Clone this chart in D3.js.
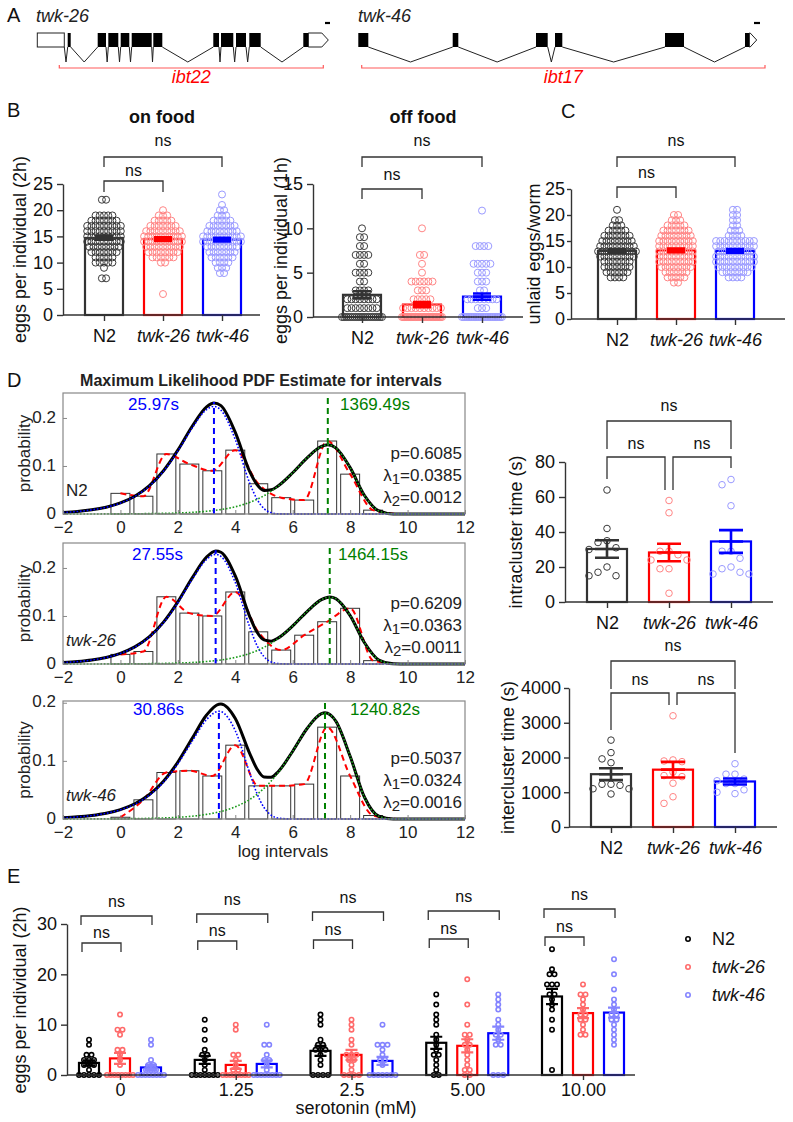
<!DOCTYPE html>
<html>
<head>
<meta charset="utf-8">
<script src="https://cdn.jsdelivr.net/npm/d3@7"></script>
<style>
  body { margin: 0; background: #fff; }
  svg text { font-family: "Liberation Sans", Arial, sans-serif; }
</style>
</head>
<body>
<svg id="fig" width="793" height="1122"></svg>
<script>
// ---------------- data ----------------
var strains = ["N2", "twk-26", "twk-46"];

// A: gene models, positions in locus units (1 unit ~ 0.1 px of the drawing)
var twk26Utr5 = [0, 270];
var twk26Exons = [[304, 334], [604, 687], [710, 810], [834, 920], [944, 1144], [1160, 1250],
                  [1760, 1817], [1837, 1960], [1987, 2087], [2120, 2234], [2660, 2710]];
var twk26Utr3 = [2710, 2910];
var twk26Del = [220, 2860];
var twk26Bar = [2877, 2927];
var twk46Exons = [[0, 100], [944, 1000], [1777, 1894], [1967, 2040], [3067, 3257], [3867, 3910]];
var twk46Utr3 = [3910, 3984];
var twk46Del = [34, 4067];
var twk46Bar = [3957, 4017];

// B / C: [value, number of animals]
var onFoodN2    = [[22,2],[19,5],[18,7],[17,9],[16,9],[15,9],[14,9],[13,8],[12,7],[11,5],[10,5],[9,1],[7,2]];
var onFoodTwk26 = [[20,1],[19,3],[18,5],[17,7],[16,9],[15,10],[14,10],[13,9],[12,8],[11,6],[10,2],[4,1]];
var onFoodTwk46 = [[23,1],[21,1],[20,2],[19,3],[18,5],[17,7],[16,8],[15,10],[14,10],[13,8],[12,7],[11,6],[10,4],[9,3],[8,2]];
var onFoodMean = [14.7, 14.5, 14.4];
var onFoodSem  = [0.35, 0.35, 0.35];

var offFoodN2    = [[10,1],[9,2],[8,2],[7,4],[6,2],[5,4],[4,2],[3,4],[2,8],[1,8],[0,20]];
var offFoodTwk26 = [[10,1],[7,2],[6,1],[5,1],[4,6],[3,3],[2,5],[1,10],[0,30]];
var offFoodTwk46 = [[12,1],[8,4],[6,5],[5,3],[4,3],[3,2],[2,8],[1,3],[0,24]];
var offFoodMean = [2.5, 1.4, 2.3];
var offFoodSem  = [0.4, 0.3, 0.35];

var unlaidN2    = [[21,1],[19,2],[18,3],[17,5],[16,7],[15,8],[14,9],[13,10],[12,9],[11,7],[10,7],[9,6],[8,4]];
var unlaidTwk26 = [[20,2],[19,3],[18,5],[17,7],[16,8],[15,9],[14,9],[13,9],[12,9],[11,9],[10,8],[9,6],[8,5],[7,2]];
var unlaidTwk46 = [[21,2],[20,2],[19,2],[18,2],[17,3],[16,4],[15,10],[14,10],[13,9],[12,10],[11,10],[10,9],[9,7],[8,4]];
var unlaidMean = [13.1, 13.2, 13.1];
var unlaidSem  = [0.35, 0.35, 0.35];

// D: interval histograms and two-exponential fits (x = log interval)
var binCenters = [0, 0.8, 1.6, 2.4, 3.2, 4.0, 4.8, 5.6, 6.4, 7.2, 8.0, 8.8];
var histN2    = [0.043, 0.037, 0.125, 0.104, 0.090, 0.133, 0.063, 0.034, 0.029, 0.152, 0.083, 0.008];
var histTwk26 = [0.020, 0.026, 0.140, 0.106, 0.100, 0.150, 0.067, 0.029, 0.060, 0.088, 0.116, 0.007];
var histTwk46 = [0.003, 0.033, 0.080, 0.083, 0.074, 0.127, 0.057, 0.057, 0.060, 0.158, 0.074, 0.006];
var histLineEnd = 9.6;

var fitXN2 = [-2,-1.5,-1,-0.5,0,0.5,1,1.5,2,2.5,3,3.257,3.5,4,4.5,4.75,5,5.25,5.5,6,6.5,7,7.222,7.5,8,8.5,9,9.5,10,12];
var fitAllN2   = [0.0032,0.0053,0.0087,0.0142,0.0230,0.0370,0.0585,0.0902,0.1330,0.1827,0.2232,0.2312,0.2256,0.1701,0.0888,0.0620,0.0492,0.0503,0.0589,0.0859,0.1169,0.1406,0.1440,0.1377,0.0966,0.0385,0.0064,0.0002,0,0];
var fitShortN2 = [0.0032,0.0052,0.0086,0.0140,0.0227,0.0365,0.0577,0.0889,0.1309,0.1792,0.2175,0.2239,0.2164,0.1551,0.0647,0.0316,0.0111,0.0028,0.0004,0,0,0,0,0,0,0,0,0,0,0];
var fitLongN2  = [0,0.0001,0.0001,0.0002,0.0003,0.0005,0.0008,0.0013,0.0021,0.0035,0.0057,0.0073,0.0092,0.0150,0.0241,0.0304,0.0381,0.0475,0.0585,0.0859,0.1169,0.1406,0.1440,0.1377,0.0966,0.0385,0.0064,0.0002,0,0];

var fitXTwk26 = [-2,-1.5,-1,-0.5,0,0.5,1,1.5,2,2.5,3,3.316,3.5,4,4.5,4.75,5,5.25,5.5,6,6.5,7,7.289,7.5,8,8.5,9,9.5,10,12];
var fitAllTwk26   = [0.0031,0.0051,0.0083,0.0136,0.0222,0.0356,0.0564,0.0873,0.1295,0.1794,0.2228,0.2354,0.2327,0.1833,0.0993,0.0670,0.0501,0.0476,0.0545,0.0794,0.1093,0.1339,0.1395,0.1361,0.1008,0.0443,0.0083,0.0004,0,0];
var fitShortTwk26 = [0.0030,0.0050,0.0082,0.0134,0.0219,0.0352,0.0557,0.0861,0.1276,0.1763,0.2176,0.2284,0.2243,0.1696,0.0773,0.0392,0.0153,0.0043,0.0008,0,0,0,0,0,0,0,0,0,0,0];
var fitLongTwk26  = [0,0.0001,0.0001,0.0002,0.0003,0.0004,0.0007,0.0012,0.0019,0.0031,0.0052,0.0070,0.0084,0.0137,0.0220,0.0278,0.0348,0.0433,0.0537,0.0794,0.1093,0.1339,0.1395,0.1361,0.1008,0.0443,0.0083,0.0004,0,0];

var fitXTwk46 = [-2,-1.5,-1,-0.5,0,0.5,1,1.5,2,2.5,3,3.429,3.5,4,4.5,4.75,5,5.25,5.5,6,6.5,7,7.124,7.5,8,8.5,9,9.5,10,12];
var fitAllTwk46   = [0.0023,0.0037,0.0061,0.0099,0.0162,0.0262,0.0417,0.0651,0.0979,0.1388,0.1789,0.1974,0.1977,0.1728,0.1129,0.0866,0.0724,0.0719,0.0818,0.1166,0.1557,0.1812,0.1826,0.1684,0.1079,0.0374,0.0047,0.0001,0,0];
var fitShortTwk46 = [0.0022,0.0036,0.0059,0.0097,0.0158,0.0255,0.0406,0.0633,0.0950,0.1340,0.1710,0.1853,0.1848,0.1519,0.0794,0.0445,0.0197,0.0065,0.0014,0,0,0,0,0,0,0,0,0,0,0];
var fitLongTwk46  = [0.0001,0.0001,0.0002,0.0002,0.0004,0.0007,0.0011,0.0018,0.0029,0.0048,0.0079,0.0121,0.0129,0.0209,0.0335,0.0421,0.0527,0.0654,0.0804,0.1166,0.1557,0.1812,0.1826,0.1684,0.1079,0.0374,0.0047,0.0001,0,0];

var modeShort = [3.257, 3.316, 3.429];
var modeLong  = [7.222, 7.289, 7.124];
var modeShortTop = [0.233, 0.237, 0.186];
var modeLongTop  = [0.246, 0.248, 0.200];
var modeShortLabel = ["25.97s", "27.55s", "30.86s"];
var modeLongLabel  = ["1369.49s", "1464.15s", "1240.82s"];
var fitP  = ["0.6085", "0.6209", "0.5037"];
var fitL1 = ["0.0385", "0.0363", "0.0324"];
var fitL2 = ["0.0012", "0.0011", "0.0016"];

var intraN2    = [64, 42, 35, 34, 31, 30, 20, 17, 15, 15];
var intraTwk26 = [58, 51, 29, 29, 27, 24, 24, 19, 19, 5];
var intraTwk46 = [70, 67, 55, 29, 29, 25, 20, 19, 17, 16, 16];
var intraMean = [30.3, 28.3, 34.6];
var intraSem  = [5.0, 5.0, 6.5];

var interN2    = [2500, 2140, 1960, 1850, 1230, 1230, 1200, 1100, 1100, 950];
var interTwk26 = [3200, 1930, 1900, 1880, 1580, 1480, 1450, 1260, 870, 680];
var interTwk46 = [1820, 1520, 1520, 1380, 1330, 1250, 1250, 1070, 960, 1000];
var interMean = [1520, 1650, 1310];
var interSem  = [170, 225, 85];

// E: serotonin dose response
var concs = ["0", "1.25", "2.5", "5.00", "10.00"];
var eMeanN2    = [2.4, 3.0, 4.8, 6.4, 15.6];
var eMeanTwk26 = [3.3, 2.0, 4.0, 5.8, 12.3];
var eMeanTwk46 = [1.5, 2.2, 2.8, 8.3, 12.4];
var eSemN2    = [0.5, 0.8, 1.0, 1.2, 1.5];
var eSemTwk26 = [1.1, 0.8, 1.0, 1.3, 1.0];
var eSemTwk46 = [0.5, 0.7, 0.8, 1.3, 1.0];
var eDotsN2 = [
  [7,6,4,4,3,3,3,2,2,2,1,0,0,0,0,0],
  [11,9,7,5,4,4,3,2,1,0,0,0,0,0,0,0],
  [12,11,10,7,6,6,5,5,5,4,3,2,0,0,0,0],
  [16,14,12,11,10,8,7,6,5,4,4,3,2,1,0,0],
  [25,21,20,20,18,18,18,16,16,15,14,13,11,9,1]
];
var eDotsTwk26 = [
  [12,9,9,8,5,5,4,3,2,0,0,0,0,0,0,0,0],
  [10,9,4,4,3,2,1,1,0,0,0,0,0,0,0,0],
  [11,10,9,7,6,4,4,4,3,3,2,1,0,0,0,0],
  [19,14,10,8,8,7,6,6,5,4,3,2,1,1,0,0],
  [18,16,16,15,14,13,12,12,11,11,10,9,8,8]
];
var eDotsTwk46 = [
  [7,6,3,2,2,1,1,1,0,0,0,0,0,0,0,0],
  [10,6,6,4,3,3,2,1,0,0,0,0,0,0,0,0],
  [10,6,6,6,5,4,3,3,2,0,0,0,0,0,0,0],
  [16,15,14,13,11,10,9,8,8,7,6,6,0,0,0],
  [23,20,17,15,14,13,12,12,11,11,10,9,8,7,6]
];

// ---------------- helpers ----------------
var svg = d3.select("#fig");
var FONT = "'Liberation Sans', Arial, sans-serif";
var barColors = ["#333333", "#ff0000", "#0000ff"];
var dotColors = ["#3a3a3a", "#ff8585", "#9a9aff"];

function addText(g, x, y, s, o) {
  o = o || {};
  var t = g.append("text").attr("x", x).attr("y", y)
    .attr("font-size", o.size || 18)
    .attr("text-anchor", o.anchor || "start")
    .attr("fill", o.color || "#111")
    .text(s);
  if (o.bold) t.attr("font-weight", "bold");
  if (o.italic) t.attr("font-style", "italic");
  if (o.rotate) t.attr("transform", "rotate(-90," + x + "," + y + ")");
  return t;
}

function expand(freq) {
  return freq.flatMap(function (d) { return d3.range(d[1]).map(function () { return d[0]; }); });
}

// dots sharing a value sit side by side in one row
function rowLayout(vals, cx, y, dx, maxW) {
  var pts = [];
  d3.group(vals, function (v) { return v; }).forEach(function (arr, v) {
    var n = arr.length;
    var step = n > 1 ? Math.min(dx, maxW / (n - 1)) : 0;
    arr.forEach(function (_, i) { pts.push({x: cx + (i - (n - 1) / 2) * step, y: y(v)}); });
  });
  return pts;
}

// simple deterministic beeswarm for continuous values
function swarm(vals, cx, y, minD) {
  var placed = [];
  vals.slice().sort(d3.descending).forEach(function (v) {
    var py = y(v), k = 0, px;
    while (true) {
      var off = k === 0 ? 0 : Math.ceil(k / 2) * minD * (k % 2 ? -1 : 1);
      px = cx + off;
      if (!placed.some(function (p) { return Math.hypot(p.x - px, p.y - py) < minD; })) break;
      k++;
    }
    placed.push({x: px, y: py});
  });
  return placed;
}

function bracket(g, xa, xb, yLine, legA, legB, ty, label) {
  var p = d3.path();
  p.moveTo(xa, legA); p.lineTo(xa, yLine); p.lineTo(xb, yLine); p.lineTo(xb, legB);
  g.append("path").attr("d", p.toString()).attr("fill", "none")
    .attr("stroke", "#333").attr("stroke-width", 1.3);
  addText(g, (xa + xb) / 2, ty, label || "ns", {size: 16, anchor: "middle"});
}

function styleAxis(sel, size) {
  sel.attr("font-family", FONT).attr("font-size", size || 18);
  sel.selectAll("path, line").attr("stroke", "#333").attr("stroke-width", 1.4);
  sel.selectAll("text").attr("fill", "#111");
}

// ---------------- A: gene models ----------------
function drawGene(xs, utr5, exons, utr3, del, bar, name, nameX, delName) {
  var g = svg.append("g");
  var top = 33, bot = 47, apex = 62;
  var feats = (utr5 ? [utr5] : []).concat(exons, [utr3]);
  for (var i = 0; i < feats.length - 1; i++) {
    var a = feats[i][1], b = feats[i + 1][0];
    if (b <= a) continue;
    g.append("path")
      .attr("d", d3.line()([[xs(a), bot], [xs((a + b) / 2), apex], [xs(b), bot]]))
      .attr("fill", "none").attr("stroke", "#222").attr("stroke-width", 1);
  }
  if (utr5) {
    g.append("rect").attr("x", xs(utr5[0])).attr("y", top)
      .attr("width", xs(utr5[1]) - xs(utr5[0])).attr("height", bot - top)
      .attr("fill", "#fff").attr("stroke", "#222").attr("stroke-width", 1);
  }
  var x0 = xs(utr3[0]), x1 = xs(utr3[1]), tip = Math.min(6.5, x1 - x0);
  g.append("path")
    .attr("d", d3.line()([[x0, top], [x1 - tip, top], [x1, (top + bot) / 2], [x1 - tip, bot], [x0, bot]]) + "Z")
    .attr("fill", "#fff").attr("stroke", "#222").attr("stroke-width", 1);
  g.selectAll("rect.exon").data(exons).join("rect").attr("class", "exon")
    .attr("x", function (d) { return xs(d[0]); }).attr("y", top)
    .attr("width", function (d) { return xs(d[1]) - xs(d[0]); }).attr("height", bot - top)
    .attr("fill", "#000");
  // scale bar
  g.append("line").attr("x1", xs(bar[0])).attr("x2", xs(bar[1])).attr("y1", 23).attr("y2", 23)
    .attr("stroke", "#000").attr("stroke-width", 2.2);
  // deletion
  var dp = d3.path();
  dp.moveTo(xs(del[0]), 65); dp.lineTo(xs(del[0]), 68); dp.lineTo(xs(del[1]), 68); dp.lineTo(xs(del[1]), 65);
  g.append("path").attr("d", dp.toString()).attr("fill", "none").attr("stroke", "#ff5a5a").attr("stroke-width", 1.2);
  addText(g, (xs(del[0]) + xs(del[1])) / 2, 83, delName, {italic: true, anchor: "middle", color: "#ff0000"});
  addText(g, nameX, 22, name, {italic: true, color: "#222"});
}
var x26 = d3.scaleLinear().domain([0, 2910]).range([37.3, 328.3]);
var x46 = d3.scaleLinear().domain([0, 3984]).range([358.3, 756.7]);
drawGene(x26, twk26Utr5, twk26Exons, twk26Utr3, twk26Del, twk26Bar, "twk-26", 36, "ibt22");
drawGene(x46, null, twk46Exons, twk46Utr3, twk46Del, twk46Bar, "twk-46", 358, "ibt17");

// ---------------- bar + scatter panels ----------------
function barPanel(p) {
  var g = svg.append("g");
  var x = d3.scalePoint().domain(strains).range([p.c0, p.c2]);
  var y = d3.scaleLinear().domain([0, p.max]).range([p.y0, p.yTop]);

  g.selectAll("rect.bar").data(p.means).join("rect").attr("class", "bar")
    .attr("x", function (d, i) { return x(strains[i]) - p.barW / 2; })
    .attr("y", function (d) { return y(d); })
    .attr("width", p.barW)
    .attr("height", function (d) { return y(0) - y(d); })
    .attr("fill", "none")
    .attr("stroke", function (d, i) { return barColors[i]; })
    .attr("stroke-width", 2.2);

  p.dots.forEach(function (vals, i) {
    var pts = p.rows ? rowLayout(vals, x(strains[i]), y, p.dx, p.maxW)
                     : swarm(vals, x(strains[i]), y, p.minD);
    g.append("g").selectAll("circle").data(pts).join("circle")
      .attr("cx", function (d) { return d.x; }).attr("cy", function (d) { return d.y; })
      .attr("r", p.r).attr("fill", "none")
      .attr("stroke", dotColors[i]).attr("stroke-width", 1);
  });

  p.means.forEach(function (m, i) {
    var cx = x(strains[i]), s = p.sems[i], hw = p.capW / 2;
    var ep = d3.path();
    ep.moveTo(cx, y(m - s)); ep.lineTo(cx, y(m + s));
    ep.moveTo(cx - hw, y(m + s)); ep.lineTo(cx + hw, y(m + s));
    ep.moveTo(cx - hw, y(m - s)); ep.lineTo(cx + hw, y(m - s));
    ep.moveTo(cx - hw, y(m)); ep.lineTo(cx + hw, y(m));
    g.append("path").attr("d", ep.toString()).attr("fill", "none")
      .attr("stroke", barColors[i]).attr("stroke-width", 2.6);
  });

  var ya = g.append("g").attr("transform", "translate(" + p.x0 + ",0)")
    .call(d3.axisLeft(y).tickValues(d3.range(0, p.max + 1, p.step))
      .tickFormat(d3.format("d")).tickSize(p.tick || 6).tickPadding(p.pad || 4).tickSizeOuter(0));
  styleAxis(ya);
  g.append("line").attr("x1", p.x0).attr("x2", p.x1).attr("y1", p.y0).attr("y2", p.y0)
    .attr("stroke", "#333").attr("stroke-width", 1.4);
  var xa = g.append("g").attr("transform", "translate(0," + p.y0 + ")")
    .call(d3.axisBottom(x).tickSize(6).tickPadding(8));
  xa.select(".domain").remove();
  styleAxis(xa);
  xa.selectAll(".tick text").attr("font-style", function (d) { return d === "N2" ? null : "italic"; });

  addText(g, p.labelX, (p.y0 + p.yTop) / 2, p.ylabel, {anchor: "middle", rotate: true, size: 18})
    .attr("dy", "0.35em");

  p.brackets.forEach(function (b) {
    bracket(g, x(strains[b[0]]) + (b[6] || 0), x(strains[b[1]]) + (b[7] || 0), b[2], b[3], b[4], b[5]);
  });
}

barPanel({x0: 63, x1: 260, c0: 104, c2: 222, y0: 315, yTop: 184, max: 25, step: 5,
  means: onFoodMean, sems: onFoodSem, barW: 38, capW: 18, r: 3.5, rows: true, dx: 4.2, maxW: 42,
  dots: [expand(onFoodN2), expand(onFoodTwk26), expand(onFoodTwk46)],
  ylabel: "eggs per individual (2h)", labelX: 20,
  brackets: [[0, 2, 157, 167, 167, 146], [0, 1, 181, 192, 192, 176]]});

barPanel({x0: 313, x1: 523, c0: 362, c2: 482, y0: 317, yTop: 184, max: 15, step: 5,
  means: offFoodMean, sems: offFoodSem, barW: 38, capW: 18, r: 3.5, rows: true, dx: 4.2, maxW: 40,
  dots: [expand(offFoodN2), expand(offFoodTwk26), expand(offFoodTwk46)],
  ylabel: "eggs per individual (1h)", labelX: 281,
  brackets: [[0, 2, 157, 167, 167, 146], [0, 1, 189, 199, 199, 180]]});

barPanel({x0: 571, x1: 785, c0: 617, c2: 735, y0: 319, yTop: 189, max: 25, step: 5,
  means: unlaidMean, sems: unlaidSem, barW: 38, capW: 18, r: 3.5, rows: true, dx: 4.2, maxW: 42,
  dots: [expand(unlaidN2), expand(unlaidTwk26), expand(unlaidTwk46)],
  ylabel: "unlaid eggs/worm", labelX: 534, tick: 4, pad: 2,
  brackets: [[0, 2, 157, 167, 167, 146], [0, 1, 187, 198, 198, 178]]});

barPanel({x0: 565, x1: 773, c0: 607, c2: 731, y0: 602, yTop: 462, max: 80, step: 20,
  means: intraMean, sems: intraSem, barW: 40, capW: 24, r: 3.3, rows: false, minD: 9,
  dots: [intraN2, intraTwk26, intraTwk46],
  ylabel: "intracluster time (s)", labelX: 516,
  brackets: [[0, 2, 421, 449, 449, 411], [0, 1, 457, 479, 490, 449, 0, -4], [1, 2, 457, 490, 468, 449, 4, 0]]});

barPanel({x0: 569, x1: 777, c0: 611, c2: 735, y0: 827, yTop: 688, max: 4000, step: 1000,
  means: interMean, sems: interSem, barW: 40, capW: 24, r: 3.3, rows: false, minD: 9,
  dots: [interN2, interTwk26, interTwk46],
  ylabel: "intercluster time (s)", labelX: 508, tick: 5, pad: 3,
  brackets: [[0, 2, 661, 689, 689, 651], [0, 1, 693, 730, 705, 685, 0, -4], [1, 2, 693, 705, 753, 685, 4, 0]]});

// ---------------- D: interval distributions ----------------
var dLayout = [
  {top: 393, bottom: 514, ymax: 0.252, textDy: 17, m1X: 128, m2X: 340},
  {top: 543, bottom: 664, ymax: 0.252, textDy: 17, m1X: 132, m2X: 338},
  {top: 701, bottom: 819, ymax: 0.203, textDy: 14, m1X: 133, m2X: 350}
];
var dSets = [
  {hist: histN2, fx: fitXN2, all: fitAllN2, s: fitShortN2, l: fitLongN2},
  {hist: histTwk26, fx: fitXTwk26, all: fitAllTwk26, s: fitShortTwk26, l: fitLongTwk26},
  {hist: histTwk46, fx: fitXTwk46, all: fitAllTwk46, s: fitShortTwk46, l: fitLongTwk46}
];
var binW = 0.66;
var xLog = d3.scaleLinear().domain([-2, 12]).range([63, 465]);

dSets.forEach(function (ds, k) {
  var L = dLayout[k];
  var g = svg.append("g");
  var y = d3.scaleLinear().domain([0, L.ymax]).range([L.bottom, L.top]);

  g.selectAll("rect.h").data(ds.hist).join("rect").attr("class", "h")
    .attr("x", function (d, i) { return xLog(binCenters[i] - binW / 2); })
    .attr("y", function (d) { return y(d); })
    .attr("width", xLog(binW) - xLog(0))
    .attr("height", function (d) { return y(0) - y(d); })
    .attr("fill", "#fff").attr("stroke", "#333").attr("stroke-width", 1);

  var line = d3.line().x(function (d) { return xLog(d[0]); }).y(function (d) { return y(d[1]); })
    .curve(d3.curveMonotoneX);
  var red = binCenters.map(function (c, i) { return [c, ds.hist[i]]; }).concat([[histLineEnd, 0]]);
  g.append("path").attr("d", line(red)).attr("fill", "none")
    .attr("stroke", "#ff0000").attr("stroke-width", 2).attr("stroke-dasharray", "6,4");

  var pick = function (arr) { return ds.fx.map(function (xv, i) { return [xv, arr[i]]; }); };
  g.append("path").attr("d", line(pick(ds.all))).attr("fill", "none")
    .attr("stroke", "#000").attr("stroke-width", 3);
  g.append("path").attr("d", line(pick(ds.s))).attr("fill", "none")
    .attr("stroke", "#0000ff").attr("stroke-width", 1.6).attr("stroke-dasharray", "1.6,1.8");
  g.append("path").attr("d", line(pick(ds.l))).attr("fill", "none")
    .attr("stroke", "#1a9a1a").attr("stroke-width", 1.6).attr("stroke-dasharray", "1.6,1.8");

  g.append("line").attr("x1", xLog(modeShort[k])).attr("x2", xLog(modeShort[k]))
    .attr("y1", y(0)).attr("y2", y(modeShortTop[k]))
    .attr("stroke", "#0000ff").attr("stroke-width", 2).attr("stroke-dasharray", "6,4");
  g.append("line").attr("x1", xLog(modeLong[k])).attr("x2", xLog(modeLong[k]))
    .attr("y1", y(0)).attr("y2", y(modeLongTop[k]))
    .attr("stroke", "#008000").attr("stroke-width", 2).attr("stroke-dasharray", "6,4");

  var xa = g.append("g").attr("transform", "translate(0," + L.bottom + ")")
    .call(d3.axisBottom(xLog).tickValues(d3.range(-2, 13, 2)).tickSize(-4).tickPadding(7).tickSizeOuter(0));
  var ya = g.append("g").attr("transform", "translate(63,0)")
    .call(d3.axisLeft(y).tickValues([0, 0.1, 0.2]).tickFormat(function (d) { return d === 0 ? "0" : d3.format(".1f")(d); })
      .tickSize(-4).tickPadding(7).tickSizeOuter(0));
  [xa, ya].forEach(function (a) {
    a.select(".domain").remove();
    a.attr("font-family", FONT).attr("font-size", 17);
    a.selectAll("line").attr("stroke", "#888");
    a.selectAll("text").attr("fill", "#222");
  });
  ya.selectAll(".tick text").attr("dy", "0.25em");
  g.append("rect").attr("x", 63).attr("y", L.top).attr("width", 465 - 63).attr("height", L.bottom - L.top)
    .attr("fill", "none").attr("stroke", "#888").attr("stroke-width", 1.2);

  addText(g, L.m1X, L.top + L.textDy, modeShortLabel[k], {size: 17, color: "#0000ff"});
  addText(g, L.m2X, L.top + L.textDy, modeLongLabel[k], {size: 17, color: "#008000"});
  addText(g, 462, L.bottom - 55, "p=" + fitP[k], {size: 17, anchor: "end", color: "#222"});
  [[fitL1[k], "1", 33], [fitL2[k], "2", 11]].forEach(function (r) {
    var t = g.append("text").attr("x", 462).attr("y", L.bottom - r[2])
      .attr("text-anchor", "end").attr("font-size", 17).attr("fill", "#222");
    t.append("tspan").text("λ");
    t.append("tspan").attr("dy", 3).attr("font-size", 15).text(r[1]);
    t.append("tspan").attr("dy", -3).text("=" + r[0]);
  });
  addText(g, 66, L.bottom - 18, strains[k], {size: 17, italic: k > 0, color: "#222"});
  addText(g, 24, (L.top + L.bottom) / 2, "probability", {size: 17, anchor: "middle", rotate: true, color: "#222"})
    .attr("dy", "0.35em");
});
addText(svg, 261, 386, "Maximum Likelihood PDF Estimate for intervals", {size: 16, bold: true, anchor: "middle", color: "#222"});
addText(svg, 283, 857, "log intervals", {size: 17, anchor: "middle", color: "#222"});

// ---------------- E: serotonin ----------------
(function () {
  var g = svg.append("g");
  var xg = d3.scalePoint().domain(concs).range([120, 583]);
  var xs = d3.scalePoint().domain(strains).range([-31, 31]);
  var y = d3.scaleLinear().domain([0, 30]).range([1075, 924]);
  var eMeans = [eMeanN2, eMeanTwk26, eMeanTwk46];
  var eSems = [eSemN2, eSemTwk26, eSemTwk46];
  var eDots = [eDotsN2, eDotsTwk26, eDotsTwk46];
  var eBar = ["#000000", "#ff0000", "#0000ff"];
  var eDot = ["#000000", "#ff6a6a", "#8484ff"];
  var outerY = [916, 914, 912, 911, 909];
  var innerY = [943, 941, 940, 939, 937];

  concs.forEach(function (c, gi) {
    strains.forEach(function (s, si) {
      var cx = xg(c) + xs(s), m = eMeans[si][gi], se = eSems[si][gi];
      g.append("rect").attr("x", cx - 10).attr("y", y(m)).attr("width", 20).attr("height", y(0) - y(m))
        .attr("fill", "none").attr("stroke", eBar[si]).attr("stroke-width", 2.2);
      g.append("g").selectAll("circle").data(rowLayout(eDots[si][gi], cx, y, 5, 26)).join("circle")
        .attr("cx", function (d) { return d.x; }).attr("cy", function (d) { return d.y; })
        .attr("r", 2.2).attr("fill", "none").attr("stroke", eDot[si]).attr("stroke-width", 1.6);
      var ep = d3.path();
      ep.moveTo(cx, y(m - se)); ep.lineTo(cx, y(m + se));
      ep.moveTo(cx - 6, y(m + se)); ep.lineTo(cx + 6, y(m + se));
      ep.moveTo(cx - 6, y(m - se)); ep.lineTo(cx + 6, y(m - se));
      g.append("path").attr("d", ep.toString()).attr("fill", "none")
        .attr("stroke", eDot[si]).attr("stroke-width", 2.2);
    });
    var xl = xg(c) + xs("N2") - 8;
    bracket(g, xl, xg(c) + xs("twk-46") + 1, outerY[gi], outerY[gi] + 9, outerY[gi] + 9, outerY[gi] - 9);
    bracket(g, xl + 1, xg(c) + xs("twk-26") + 1, innerY[gi], innerY[gi] + 9, innerY[gi] + 9, innerY[gi] - 5);
  });

  var ya = g.append("g").attr("transform", "translate(67,0)")
    .call(d3.axisLeft(y).tickValues([0, 10, 20, 30]).tickSize(6).tickPadding(4).tickSizeOuter(0));
  styleAxis(ya);
  g.append("line").attr("x1", 67).attr("x2", 635).attr("y1", 1075).attr("y2", 1075)
    .attr("stroke", "#333").attr("stroke-width", 1.4);
  var xa = g.append("g").attr("transform", "translate(0,1075)")
    .call(d3.axisBottom(xg).tickSize(5).tickPadding(3));
  xa.select(".domain").remove();
  styleAxis(xa);
  addText(g, 356, 1114, "serotonin (mM)", {anchor: "middle"});
  addText(g, 20, 1000, "eggs per individual (2h)", {anchor: "middle", rotate: true}).attr("dy", "0.35em");

  var legY = [939, 967, 995];
  strains.forEach(function (s, si) {
    g.append("circle").attr("cx", 688).attr("cy", legY[si]).attr("r", 2.2)
      .attr("fill", "none").attr("stroke", eDot[si]).attr("stroke-width", 1.6);
    addText(g, 712, legY[si] + 6, s, {italic: si > 0});
  });
})();

// ---------------- panel letters and titles ----------------
addText(svg, 7, 22, "A", {size: 20});
addText(svg, 7, 117, "B", {size: 20});
addText(svg, 561, 118, "C", {size: 20});
addText(svg, 7, 387, "D", {size: 20});
addText(svg, 7, 883, "E", {size: 20});
addText(svg, 162, 123, "on food", {bold: true, anchor: "middle"});
addText(svg, 423, 123, "off food", {bold: true, anchor: "middle"});
</script>
</body>
</html>
